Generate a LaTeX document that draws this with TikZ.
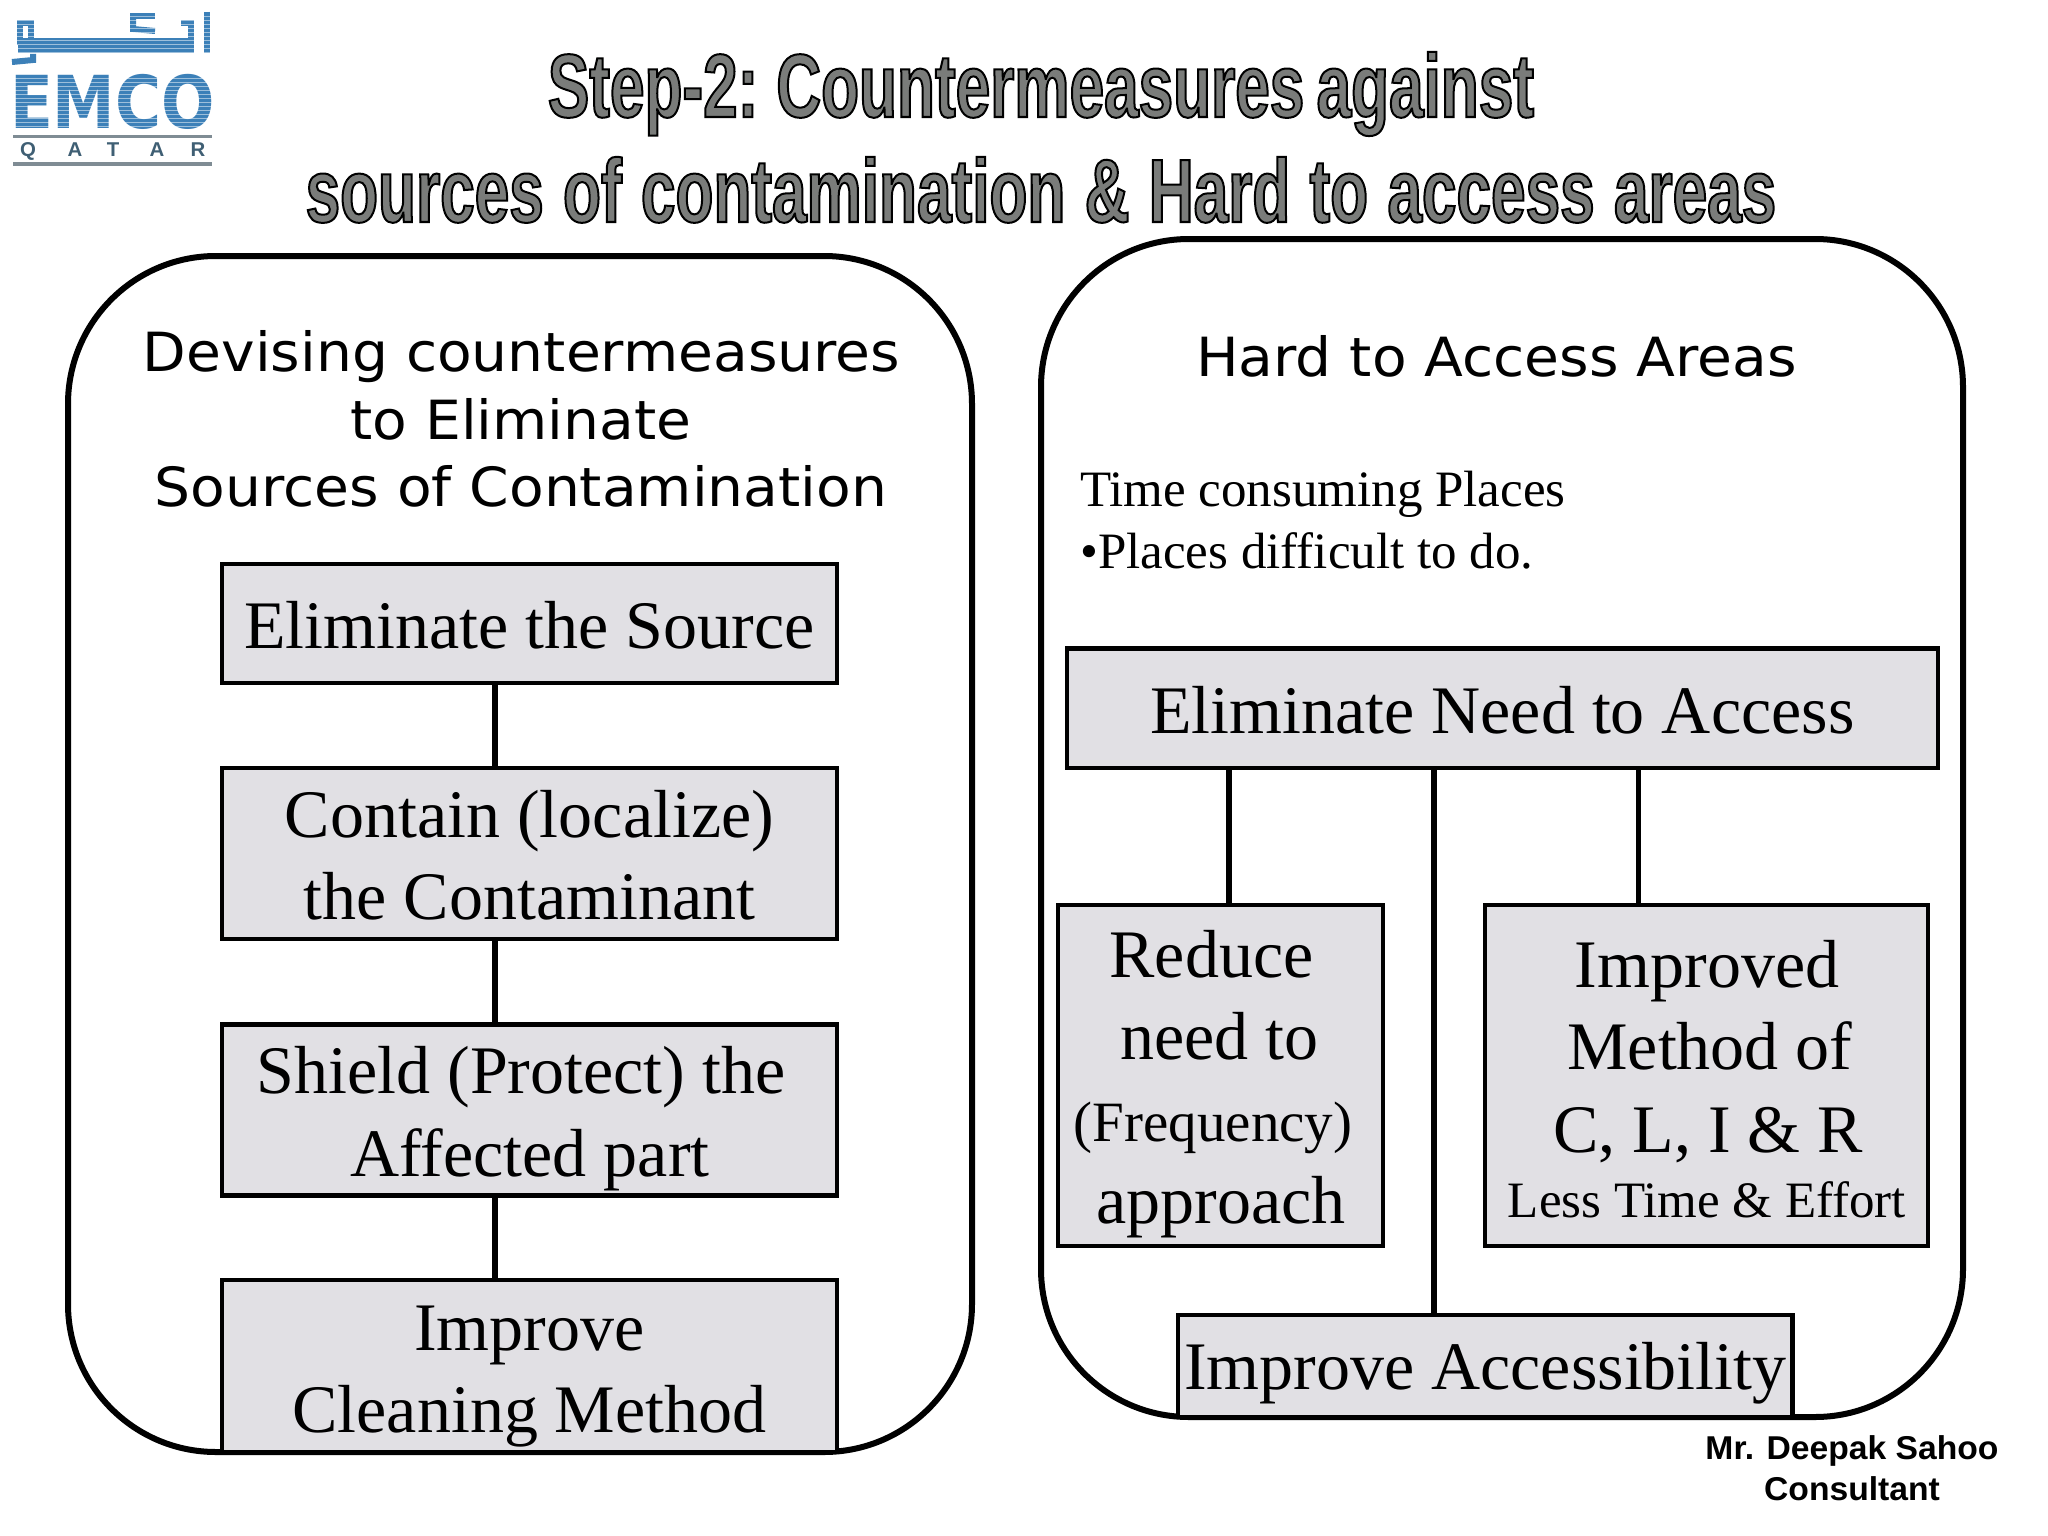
\documentclass[tikz,border=0pt]{standalone}
\usepackage{fontspec}
\setmainfont{Liberation Serif}
\newfontfamily\serifn{Liberation Serif}
\newfontfamily\headf[FakeStretch=1.05]{DejaVu Sans}
\newfontfamily\titlef[FakeStretch=0.69]{Liberation Sans}
\newfontfamily\footf[FakeStretch=1.02]{Liberation Sans}
\newfontfamily\logof[FakeStretch=0.86]{DejaVu Sans}
\newcommand\fs[1]{\fontsize{#1pt}{#1pt}\selectfont}
\newcommand\tline[3]{\makebox[0pt][c]{\raisebox{#2pt}[0pt][0pt]{\kern\dimexpr#1pt*2\relax#3}}}
\newcommand\outlined[1]{\special{pdf:code q 2 Tr 2 w 0 0 0 RG 0.48 0.485 0.48 rg}#1\special{pdf:code Q}}
\definecolor{boxfill}{HTML}{E1E0E4}
\definecolor{logoblue}{HTML}{3C80B8}
\definecolor{logogray}{HTML}{7F8C94}
\definecolor{logodark}{HTML}{3F5F74}
\tikzset{
  panel/.style={draw=black,line width=6pt,fill=white,rounded corners=148pt,inner sep=0pt},
  boxn/.style={draw=black,line width=4.5pt,fill=boxfill,inner sep=0pt,font=\serifn\fs{68}},
  link/.style={draw=black,line width=5.5pt},
  head/.style={anchor=base,font=\headf\fs{54},inner sep=0pt},
  logobar/.style={draw=logoblue,line width=5pt},
  stripe/.style={draw=white,line width=0.9pt,opacity=0.5}
}
\begin{document}
\begin{tikzpicture}[x=1pt,y=-1pt]
\useasboundingbox (0,0) rectangle (2048,1536);
\fill[white] (0,0) rectangle (2048,1536);
% logo
\draw[logobar,line width=6pt] (207,12) -- (207,53);
\fill[logoblue] (18,38) rectangle (194,53);
\draw[logobar,line width=6pt] (20,23) rectangle (31,42);
\draw[logobar,line width=6pt] (181,23) -- (191,23) -- (191,48);
\draw[logobar,line width=6pt] (130,16) -- (155,16);
\draw[logobar,line width=6pt] (133,16) -- (133,29) -- (155,31);
\draw[logobar,line width=6pt] (12,62) -- (33,60) -- (33,54);
\node[anchor=base,inner sep=0pt,text=logoblue,font=\logof\bfseries\fs{73}] (emco) at (112.5,129) {EMCO};
\foreach \yy in {78,82,...,128} \draw[stripe] (10,\yy) -- (216,\yy);
\foreach \yy in {16,20,...,52} \draw[stripe] (10,\yy) -- (216,\yy);
\draw[logogray,line width=3pt] (13,137) -- (212,137);
\draw[logogray,line width=3pt] (13,164) -- (212,164);
\foreach \xx/\ll/\nn in {28/Q/qa,75/A/qb,113/T/qc,157/A/qd,198/R/qe}
  \node[anchor=base,inner sep=0pt,text=logodark,font=\footf\bfseries\fs{20}] (\nn) at (\xx,157) {\ll};
% title
\node[anchor=base,inner sep=0pt,font=\titlef\bfseries\fs{90}] (t1) at (1041,117) {\spaceskip=12.3pt\outlined{Step-2: Countermeasures against}};
\node[anchor=base,inner sep=0pt,font=\titlef\bfseries\fs{90}] (t2) at (1041,222) {\spaceskip=19.3pt\outlined{sources of contamination \& Hard to access areas}};
% panels
\node[panel,minimum width=904pt,minimum height=1196pt] (pl) at (520,854) {};
\node[panel,minimum width=922pt,minimum height=1178pt] (pr) at (1502,828) {};
% headings
\node[head] (h1) at (521.5,371) {Devising countermeasures};
\node[head] (h2) at (521,439) {to Eliminate};
\node[head] (h3) at (521,506) {Sources of Contamination};
\node[head] (h4) at (1496.5,376.6) {Hard to Access Areas};
\node[anchor=base west,inner sep=0pt,font=\serifn\fs{51}] (s1) at (1080,506) {Time consuming Places};
\node[anchor=base west,inner sep=0pt,font=\serifn\fs{51}] (s2) at (1080,568) {•Places difficult to do.};
% left boxes
\node[boxn,minimum width=615pt,minimum height=119pt] (b1) at (529.5,623.5) {\tline{0}{-24.5}{Eliminate the Source}};
\node[boxn,minimum width=615pt,minimum height=171pt] (b2) at (529.5,853.5) {\tline{0}{16.5}{Contain (localize)}\tline{0}{-66}{the Contaminant}};
\node[boxn,minimum width=615pt,minimum height=171pt] (b3) at (529.5,1110) {\tline{-8.5}{16.5}{Shield (Protect) the}\tline{0.5}{-66}{Affected part}};
\node[boxn,minimum width=615pt,minimum height=172pt] (b4) at (529.5,1366) {\tline{0}{16}{Improve}\tline{0}{-66}{Cleaning Method}};
\draw[link] ([xshift=-34.5pt]b1.south) -- ([xshift=-34.5pt]b2.north);
\draw[link] ([xshift=-34.5pt]b2.south) -- ([xshift=-34.5pt]b3.north);
\draw[link] ([xshift=-34.5pt]b3.south) -- ([xshift=-34.5pt]b4.north);
% right boxes
\node[boxn,minimum width=871pt,minimum height=119.5pt] (e) at (1502.25,708.25) {\tline{0}{-24.75}{Eliminate Need to Access}};
\node[boxn,minimum width=325pt,minimum height=341pt] (r) at (1220.5,1075.5) {\tline{-9}{98.5}{Reduce}\tline{-1}{16.5}{need to}\tline{-7.5}{-66}{\fs{57}(Frequency)}\tline{0.5}{-147.5}{approach}};
\node[boxn,minimum width=443pt,minimum height=341pt] (i) at (1706.5,1075.5) {\tline{0.5}{88}{Improved}\tline{3.5}{6.5}{Method of}\tline{1.5}{-76.5}{C, L, I \& R}\tline{0.5}{-141.5}{\fs{51}Less Time \& Effort}};
\node[boxn,minimum width=614.5pt,minimum height=102pt] (a) at (1485.25,1366) {\tline{0}{-23.6}{Improve Accessibility}};
\draw[link] ([xshift=-273.25pt]e.south) -- ([xshift=8.5pt]r.north);
\draw[link] ([xshift=-68.25pt]e.south) -- ([xshift=-51.25pt]a.north);
\draw[link] ([xshift=136.25pt]e.south) -- ([xshift=-68pt]i.north);
% footer
\node[anchor=base,inner sep=0pt,font=\footf\bfseries\fs{33}] (f1) at (1852,1459.5) {Mr. Deepak Sahoo};
\node[anchor=base,inner sep=0pt,font=\footf\bfseries\fs{33}] (f2) at (1852,1500) {Consultant};
\end{tikzpicture}
\end{document}
